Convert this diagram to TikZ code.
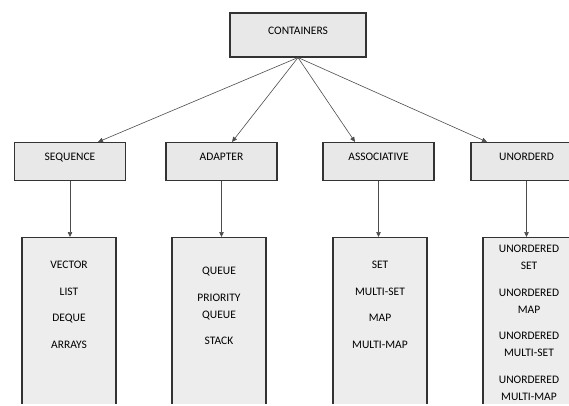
\documentclass[tikz,border=0pt]{standalone}
\usepackage{fontspec}
\setmainfont{Carlito}
\usetikzlibrary{positioning,arrows.meta}

\tikzset{
  box/.style={draw=black!80, line width=1.1pt, fill=black!9, minimum width=111pt,
    minimum height=38pt, text depth=9pt, inner sep=0pt},
  listbox/.style={draw=black!80, line width=1.1pt, fill=black!7, minimum width=94pt,
    minimum height=200pt, anchor=north},
  items/.style={align=center, inner sep=0pt},
  link/.style={draw=black!70, line width=0.6pt, -{Triangle[length=5pt,width=4.5pt]}},
}

\begin{document}
\begin{tikzpicture}[x=1pt, y=-1pt, font=\fontsize{11.5}{17}\selectfont]
  \useasboundingbox (0,0) rectangle (569,405);
  \clip (0,0) rectangle (569,403); % lists run off the bottom

  \node[box, minimum width=136pt, minimum height=44pt] (cont) at (298,35) {CONTAINERS};

  % name/top x/list x/tip shift/label
  \foreach \n/\tx/\lx/\dx/\lbl in {seq/70/69/28/SEQUENCE, ada/221.5/219/10.5/ADAPTER,
      ass/378.5/380/-23.5/ASSOCIATIVE, uno/526.5/530/-39.5/UNORDERD}
  {
    \node[box] (\n) at (\tx,161.5) {\lbl};
    \node[listbox] (\n-list) at (\lx,237) {};
    \draw[link] (cont.south) -- ([xshift=\dx pt]\n.north);
    \draw[link] (\n.south) -- (\n.south |- \n-list.north);
  }

  \node[items, below=24pt of seq-list.north] (seq-items)
    {VECTOR\\[9.5pt]LIST\\[9.5pt]DEQUE\\[9.5pt]ARRAYS};
  \node[items, below=30pt of ada-list.north] (ada-items)
    {QUEUE\\[9.5pt]PRIORITY\\QUEUE\\[9.5pt]STACK};
  \node[items, below=24pt of ass-list.north] (ass-items)
    {SET\\[9.5pt]MULTI-SET\\[9.5pt]MAP\\[9.5pt]MULTI-MAP};
  \node[items, below=8pt of uno-list.north, xshift=-1pt] (uno-items)
    {UNORDERED\\SET\\[9.5pt]UNORDERED\\MAP\\[9.5pt]UNORDERED\\MULTI-SET\\[9.5pt]UNORDERED\\MULTI-MAP};
\end{tikzpicture}
\end{document}
